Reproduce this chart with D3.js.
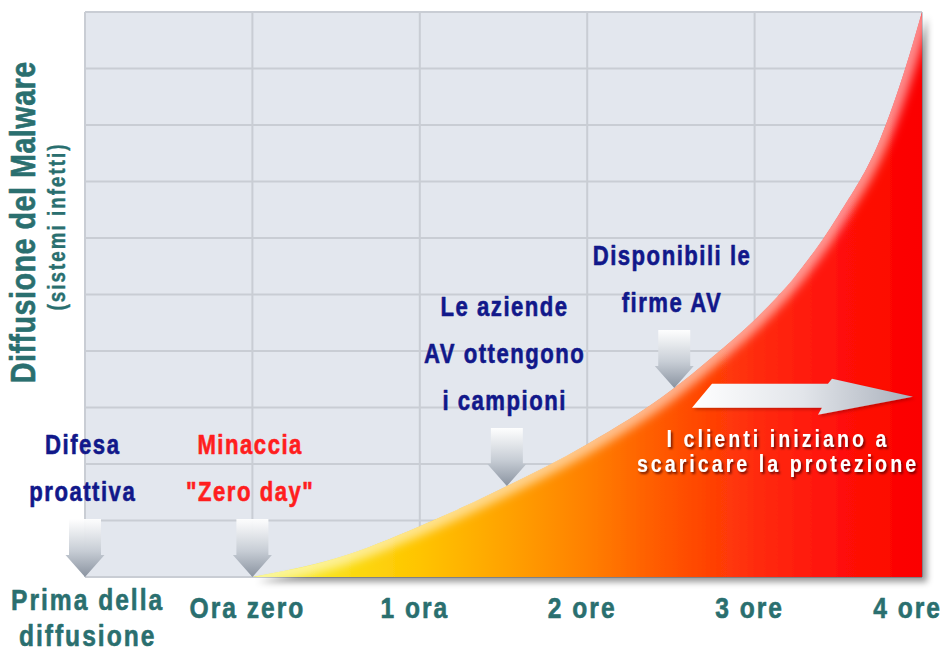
<!DOCTYPE html>
<html>
<head>
<meta charset="utf-8">
<script src="https://cdn.jsdelivr.net/npm/d3@7"></script>
<style>
  html, body { margin: 0; padding: 0; background: #ffffff; }
  svg { display: block; }
  text { font-family: "Liberation Sans", Arial, Helvetica, sans-serif; font-weight: bold; }
</style>
</head>
<body>
<svg id="chart" width="943" height="652"></svg>
<script>
// Time axis: hours relative to the start of the outbreak
const hourTicks = [-1, 0, 1, 2, 3, 4];
const hourLabels = [["Prima della", "diffusione"], ["Ora zero"], ["1 ora"], ["2 ore"], ["3 ore"], ["4 ore"]];

// Malware spread (share of the vertical scale, 0-100) over time
const spreadHours  = [0, 0.5, 1, 1.5, 2, 2.5, 2.75, 3, 3.25, 3.5, 3.75, 3.9, 4];
const spreadValues = [0, 3.3, 9.0, 15.8, 23.5, 33, 39, 45.5, 53.5, 64, 77.5, 90, 100];

// Horizontal grid steps
const gridValues = [0, 10, 20, 30, 40, 50, 60, 70, 80, 90, 100];

// Events marked with a down arrow on the spread curve
const eventHours = [-1, 0, 1.52, 2.52];
const eventTexts = [
  ["Difesa", "proattiva"],
  ["Minaccia", "\"Zero day\""],
  ["Le aziende", "AV ottengono", "i campioni"],
  ["Disponibili le", "firme AV"]
];
const eventKinds = ["difesa", "minaccia", "av", "av"];

// Protection rollout band
const protectionHours = [2.626, 3.946];
const protectionLevel = 31.9;
const protectionText = ["I clienti iniziano a", "scaricare la protezione"];

const yTitle = "Diffusione del Malware";
const ySubtitle = "(sistemi infetti)";

// ---------------------------------------------------------------
const W = 943, H = 652;
const plot = { left: 85, right: 922, top: 12, bottom: 577 };
const teal = "#2a6f6f", navy = "#11188a", threat = "#ff1e1e";
const kindColor = { difesa: navy, minaccia: threat, av: navy };
const SX = 0.82; // horizontal condensing of the bold face

const x = d3.scaleLinear().domain([-1, 4]).range([plot.left, plot.right]);
const y = d3.scaleLinear().domain([0, 100]).range([plot.bottom, plot.top]);

const svg = d3.select("#chart");
const defs = svg.append("defs");

// condensed bold label helper
function ctext(parent, o) {
  const g = parent.append("g")
    .attr("transform", `translate(${o.x},${o.y}) rotate(${o.rotate || 0}) scale(${SX},1)`);
  const sp = (o.spacing || 0) / SX;
  const anchor = o.anchor || "middle";
  const t = g.append("text")
    .attr("x", anchor === "middle" ? sp / 2 : (anchor === "end" ? sp : 0))
    .attr("text-anchor", anchor)
    .attr("font-size", o.size)
    .attr("letter-spacing", sp + "px")
    .attr("fill", o.fill)
    .text(o.text);
  if (o.heavy) t.attr("stroke", o.fill).attr("stroke-width", o.heavy).attr("stroke-linejoin", "round");
  if (o.filter) t.attr("filter", o.filter);
  return { g, t, width: () => t.node().getComputedTextLength() * SX };
}

// Heat gradient for the spread area (yellow -> orange -> red)
const heat = defs.append("linearGradient").attr("id", "heat")
  .attr("gradientUnits", "userSpaceOnUse")
  .attr("x1", x(0)).attr("x2", x(4)).attr("y1", 0).attr("y2", 0);
[[0, "#f3ee24"], [0.12, "#fae016"], [0.25, "#ffc400"], [0.38, "#ffa200"],
 [0.5, "#ff8000"], [0.62, "#ff5600"], [0.75, "#ff2c0a"], [0.87, "#ff1208"], [1, "#fb0000"]]
  .forEach(([o, c]) => heat.append("stop").attr("offset", o).attr("stop-color", c));

// Down arrow gradient
const downGrad = defs.append("linearGradient").attr("id", "downGrad")
  .attr("x1", 0).attr("y1", 0).attr("x2", 0).attr("y2", 1);
downGrad.append("stop").attr("offset", 0).attr("stop-color", "#ffffff").attr("stop-opacity", 0.95);
downGrad.append("stop").attr("offset", 0.55).attr("stop-color", "#c7cdd5");
downGrad.append("stop").attr("offset", 1).attr("stop-color", "#8a93a0");

// Right arrow gradient
const rightGrad = defs.append("linearGradient").attr("id", "rightGrad")
  .attr("x1", 0).attr("y1", 0).attr("x2", 1).attr("y2", 0);
rightGrad.append("stop").attr("offset", 0).attr("stop-color", "#ffffff");
rightGrad.append("stop").attr("offset", 0.5).attr("stop-color", "#e2e5ea");
rightGrad.append("stop").attr("offset", 1).attr("stop-color", "#a9b0bb");

// Filters
const areaShadow = defs.append("filter").attr("id", "areaShadow")
  .attr("x", "-10%").attr("y", "-10%").attr("width", "130%").attr("height", "130%");
areaShadow.append("feDropShadow").attr("dx", 5).attr("dy", 5).attr("stdDeviation", 3)
  .attr("flood-color", "#000").attr("flood-opacity", 0.4);

const soft = defs.append("filter").attr("id", "soft")
  .attr("x", "-20%").attr("y", "-20%").attr("width", "140%").attr("height", "140%");
soft.append("feGaussianBlur").attr("stdDeviation", 5);

const textShadow = defs.append("filter").attr("id", "textShadow")
  .attr("x", "-10%").attr("y", "-30%").attr("width", "120%").attr("height", "160%");
textShadow.append("feDropShadow").attr("dx", 2).attr("dy", 2).attr("stdDeviation", 1.2)
  .attr("flood-color", "#400000").attr("flood-opacity", 0.75);

const arrowShadow = defs.append("filter").attr("id", "arrowShadow")
  .attr("x", "-10%").attr("y", "-30%").attr("width", "120%").attr("height", "160%");
arrowShadow.append("feDropShadow").attr("dx", 2).attr("dy", 2).attr("stdDeviation", 1.5)
  .attr("flood-color", "#600000").attr("flood-opacity", 0.35);

// ---------------------------------------------------------------
// Plot background and grid
svg.append("rect")
  .attr("x", plot.left).attr("y", plot.top)
  .attr("width", plot.right - plot.left).attr("height", plot.bottom - plot.top)
  .attr("fill", "#e3e7ee");

const grid = svg.append("g").attr("stroke", "#c9cdd4").attr("stroke-width", 2);
grid.selectAll("line.v").data(hourTicks).join("line").attr("class", "v")
  .attr("x1", d => x(d)).attr("x2", d => x(d))
  .attr("y1", plot.top).attr("y2", plot.bottom);
grid.selectAll("line.h").data(gridValues).join("line").attr("class", "h")
  .attr("x1", plot.left).attr("x2", plot.right)
  .attr("y1", d => y(d)).attr("y2", d => y(d));

// ---------------------------------------------------------------
// Spread area
const spread = spreadHours.map((h, i) => ({ h, v: spreadValues[i] }));
const area = d3.area().x(d => x(d.h)).y0(y(0)).y1(d => y(d.v)).curve(d3.curveMonotoneX);
const line = d3.line().x(d => x(d.h)).y(d => y(d.v)).curve(d3.curveMonotoneX);

defs.append("clipPath").attr("id", "areaClip").append("path").attr("d", area(spread));

svg.append("path").attr("d", area(spread))
  .attr("fill", "url(#heat)").attr("filter", "url(#areaShadow)");

// glossy rim along the curve edge
svg.append("g").attr("clip-path", "url(#areaClip)")
  .append("path").attr("d", line(spread))
  .attr("fill", "none").attr("stroke", "#ffffff").attr("stroke-width", 18)
  .attr("stroke-opacity", 0.55).attr("filter", "url(#soft)");

// hidden reference path to read the curve height at any hour
const refPath = svg.append("path").attr("d", line(spread))
  .attr("fill", "none").attr("stroke", "none").node();
const refLen = refPath.getTotalLength();
function curveY(h) {
  if (h <= spreadHours[0]) return y(0);
  const px = x(h);
  let lo = 0, hi = refLen;
  for (let k = 0; k < 40; k++) {
    const mid = (lo + hi) / 2;
    if (refPath.getPointAtLength(mid).x < px) lo = mid; else hi = mid;
  }
  return refPath.getPointAtLength((lo + hi) / 2).y;
}

// ---------------------------------------------------------------
// Event arrows and captions
const arrowShape = "M-16,-58 L16,-58 L16,-22 L19.5,-22 L0,0 L-19.5,-22 L-16,-22 Z";
const lineGap = 47, captionLift = 76;

eventHours.forEach((h, i) => {
  const tx = x(h), ty = curveY(h);
  svg.append("path").attr("d", arrowShape)
    .attr("transform", `translate(${tx},${ty})`)
    .attr("fill", "url(#downGrad)");
  const lines = eventTexts[i];
  const n = lines.length;
  lines.forEach((t, j) => {
    ctext(svg, {
      x: tx - 3, y: ty - captionLift - (n - 1 - j) * lineGap,
      text: t, size: 27, spacing: 1.5, fill: kindColor[eventKinds[i]], heavy: 0.6
    });
  });
});

// ---------------------------------------------------------------
// Protection arrow and caption
const ax0 = x(protectionHours[0]), ax1 = x(protectionHours[1]), ay = y(protectionLevel);
const L = ax1 - ax0;
const rightPts = [[20, -13], [L - 85, -13], [L - 81, -18], [L, 0], [L - 95, 18], [L - 91, 11], [0, 11]];
svg.append("polygon")
  .attr("points", rightPts.map(p => `${ax0 + p[0]},${ay + p[1]}`).join(" "))
  .attr("fill", "url(#rightGrad)")
  .attr("filter", "url(#arrowShadow)");

const pcx = (ax0 + ax1) / 2 - 26;
protectionText.forEach((t, j) => {
  ctext(svg, {
    x: pcx, y: ay + 50 + j * 25, text: t, size: 24, spacing: 3,
    fill: "#ffffff", filter: "url(#textShadow)"
  });
});

// ---------------------------------------------------------------
// X axis labels
hourTicks.forEach((h, i) => {
  const lines = hourLabels[i];
  const baseY = j => lines.length > 1 ? 610 + j * 36 : 618;
  const items = lines.map((t, j) => ctext(svg, {
    x: 0, y: baseY(j), text: t, size: 30, spacing: 2, fill: teal, heavy: 0.6
  }));
  const w = d3.max(items, it => it.width());
  let cx = x(h) - 6;
  cx = Math.max(cx, 10 + w / 2);
  cx = Math.min(cx, W - 2 - w / 2);
  items.forEach((it, j) => {
    it.g.attr("transform", `translate(${cx},${baseY(j)}) scale(${SX},1)`);
  });
});

// Y axis title
const yMid = (y(0) + y(100)) / 2;
ctext(svg, { x: 35, y: yMid - 72, rotate: -90, text: yTitle, size: 35, spacing: 0.5, fill: teal, heavy: 0.6 });
ctext(svg, { x: 65, y: yMid - 67, rotate: -90, text: ySubtitle, size: 23, spacing: 2, fill: teal, heavy: 0.4 });
</script>
</body>
</html>
